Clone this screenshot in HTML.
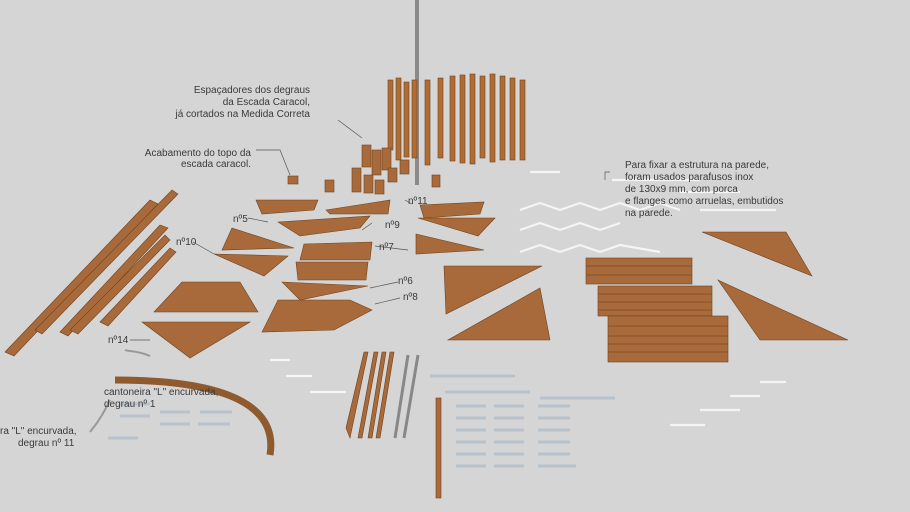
<!DOCTYPE html>
<html><head><meta charset="utf-8"><style>
html,body{margin:0;padding:0;background:#d5d5d5;}
svg{display:block}
text{font-family:"Liberation Sans","DejaVu Sans",sans-serif;font-size:10px;fill:#3a3a3a}
</style></head><body>
<svg width="910" height="512" viewBox="0 0 910 512" xmlns="http://www.w3.org/2000/svg">
<rect width="910" height="512" fill="#d5d5d5"/>
<g fill="#a86a3a" stroke="#6e431f" stroke-width="0.6">
<rect x="415" y="0" width="4" height="185" fill="#8a8a8a" stroke="none"/>
<g fill="#b06c35">
<rect x="388" y="80" width="5" height="70"/><rect x="396" y="78" width="5" height="82"/><rect x="404" y="82" width="5" height="75"/><rect x="412" y="80" width="5" height="78"/>
<rect x="425" y="80" width="5" height="85"/><rect x="438" y="78" width="5" height="80"/><rect x="450" y="76" width="5" height="85"/><rect x="460" y="75" width="5" height="88"/><rect x="470" y="74" width="5" height="90"/><rect x="480" y="76" width="5" height="82"/><rect x="490" y="74" width="5" height="88"/><rect x="500" y="76" width="5" height="84"/><rect x="510" y="78" width="5" height="82"/><rect x="520" y="80" width="5" height="80"/>
</g>
<rect x="362" y="145" width="9" height="22"/><rect x="372" y="150" width="9" height="25"/><rect x="382" y="148" width="9" height="22"/><rect x="352" y="168" width="9" height="24"/><rect x="364" y="175" width="9" height="18"/><rect x="375" y="180" width="9" height="14"/><rect x="388" y="168" width="9" height="14"/><rect x="400" y="160" width="9" height="14"/><rect x="325" y="180" width="9" height="12"/><rect x="432" y="175" width="8" height="12"/>
<rect x="288" y="176" width="10" height="8"/>
<polygon points="5,352 150,200 158,204 14,356"/>
<polygon points="35,330 172,190 178,194 42,334"/>
<polygon points="60,332 160,225 168,228 68,336"/>
<polygon points="70,330 165,235 170,240 78,334"/>
<polygon points="100,322 170,248 176,252 108,326"/>
<polygon points="256,200 318,200 314,210 262,214"/>
<polygon points="278,222 370,216 360,228 300,236"/>
<polygon points="326,210 390,200 388,214 330,214"/>
<polygon points="420,205 484,202 480,214 424,218"/>
<polygon points="418,218 495,218 478,236"/>
<polygon points="232,228 294,248 222,250"/>
<polygon points="304,244 372,242 370,260 300,260"/>
<polygon points="214,254 288,256 264,276"/>
<polygon points="296,262 368,262 366,280 298,280"/>
<polygon points="416,234 484,250 416,254"/>
<polygon points="182,282 240,282 258,312 154,312"/>
<polygon points="282,282 368,286 300,300"/>
<polygon points="278,300 350,300 372,310 334,330 262,332"/>
<polygon points="142,322 250,322 190,358"/>
<polygon points="444,266 542,266 446,314"/>
<polygon points="540,288 550,340 448,340"/>
<polygon points="702,232 786,232 812,276"/>
<polygon points="718,280 848,340 760,340"/>
<rect x="586" y="258" width="106" height="26"/>
<rect x="598" y="286" width="114" height="30"/>
<rect x="608" y="316" width="120" height="46"/>
<path d="M115,380 C200,380 280,395 270,455" fill="none" stroke="#8e5a2e" stroke-width="7"/>
<polygon points="346,428 364,352 368,352 350,438"/>
<polygon points="358,438 374,352 378,352 362,438"/>
<polygon points="368,438 382,352 386,352 372,438"/>
<polygon points="376,438 390,352 394,352 380,438"/>
<rect x="436" y="398" width="5" height="100"/>
</g>
<g stroke="#7a4a24" stroke-width="0.8">
<line x1="586" y1="266" x2="692" y2="266"/><line x1="586" y1="275" x2="692" y2="275"/>
<line x1="598" y1="294" x2="712" y2="294"/><line x1="598" y1="302" x2="712" y2="302"/><line x1="598" y1="310" x2="712" y2="310"/>
<line x1="608" y1="326" x2="728" y2="326"/><line x1="608" y1="336" x2="728" y2="336"/><line x1="608" y1="344" x2="728" y2="344"/><line x1="608" y1="352" x2="728" y2="352"/>
</g>
<g stroke="#888" stroke-width="3"><line x1="395" y1="438" x2="408" y2="355"/><line x1="404" y1="438" x2="418" y2="355"/></g>
<g stroke="#f5f5f5" stroke-width="2.2" fill="none">
<line x1="612" y1="180" x2="700" y2="180"/><line x1="680" y1="192" x2="740" y2="192"/><line x1="700" y1="210" x2="776" y2="210"/>
<polyline points="520,210 540,203 560,210 580,203 600,210 620,203 640,210 660,203 680,210"/>
<polyline points="520,230 540,223 560,230 580,223 600,230 620,223"/>
<polyline points="520,252 540,245 560,252 580,245 600,252 620,245 660,252"/>
<line x1="530" y1="172" x2="560" y2="172"/>
<line x1="270" y1="360" x2="290" y2="360"/><line x1="286" y1="376" x2="312" y2="376"/><line x1="310" y1="392" x2="346" y2="392"/>
<line x1="700" y1="410" x2="740" y2="410"/><line x1="730" y1="396" x2="760" y2="396"/><line x1="760" y1="382" x2="786" y2="382"/><line x1="670" y1="425" x2="705" y2="425"/>
</g>
<g stroke="#b8c2cc" stroke-width="3">
<line x1="430" y1="376" x2="515" y2="376"/><line x1="445" y1="392" x2="530" y2="392"/><line x1="540" y1="398" x2="615" y2="398"/>
<line x1="456" y1="406" x2="486" y2="406"/><line x1="494" y1="406" x2="524" y2="406"/><line x1="538" y1="406" x2="570" y2="406"/>
<line x1="456" y1="418" x2="486" y2="418"/><line x1="494" y1="418" x2="524" y2="418"/><line x1="538" y1="418" x2="570" y2="418"/>
<line x1="456" y1="430" x2="486" y2="430"/><line x1="494" y1="430" x2="524" y2="430"/><line x1="538" y1="430" x2="570" y2="430"/>
<line x1="456" y1="442" x2="486" y2="442"/><line x1="494" y1="442" x2="524" y2="442"/><line x1="538" y1="442" x2="570" y2="442"/>
<line x1="456" y1="454" x2="486" y2="454"/><line x1="494" y1="454" x2="524" y2="454"/><line x1="538" y1="454" x2="570" y2="454"/>
<line x1="456" y1="466" x2="486" y2="466"/><line x1="494" y1="466" x2="524" y2="466"/><line x1="538" y1="466" x2="576" y2="466"/>
<line x1="120" y1="404" x2="150" y2="404"/><line x1="160" y1="412" x2="190" y2="412"/><line x1="200" y1="412" x2="232" y2="412"/>
<line x1="120" y1="416" x2="150" y2="416"/><line x1="160" y1="424" x2="190" y2="424"/><line x1="198" y1="424" x2="230" y2="424"/>
<line x1="108" y1="438" x2="138" y2="438"/>
</g>
<g stroke="#999" stroke-width="2" fill="none"><path d="M150,356 C135,350 130,352 125,350"/><path d="M90,432 C100,420 105,410 110,400"/></g>
<g stroke="#555" stroke-width="0.7" fill="none">
<polyline points="338,120 362,138"/><polyline points="256,150 280,150 290,175"/><polyline points="610,172 605,172 605,180"/>
<line x1="248" y1="218" x2="268" y2="222"/><line x1="193" y1="242" x2="214" y2="254"/><line x1="372" y1="223" x2="362" y2="230"/><line x1="375" y1="246" x2="408" y2="250"/><line x1="398" y1="282" x2="370" y2="288"/><line x1="400" y1="298" x2="375" y2="304"/><line x1="130" y1="340" x2="150" y2="340"/><line x1="412" y1="204" x2="405" y2="200"/>
</g>
<text x="310" y="93" text-anchor="end">Espaçadores dos degraus</text>
<text x="310" y="105" text-anchor="end">da Escada Caracol,</text>
<text x="310" y="117" text-anchor="end">já cortados na Medida Correta</text>
<text x="251" y="156" text-anchor="end">Acabamento do topo da</text>
<text x="251" y="167" text-anchor="end">escada caracol.</text>
<text x="625" y="168">Para fixar a estrutura na parede,</text>
<text x="625" y="180">foram usados parafusos inox</text>
<text x="625" y="192">de 130x9 mm, com porca</text>
<text x="625" y="204">e flanges como arruelas, embutidos</text>
<text x="625" y="216">na parede.</text>
<text x="233" y="222">nº5</text><text x="176" y="245">nº10</text><text x="408" y="204">nº11</text><text x="385" y="228">nº9</text><text x="379" y="250">nº7</text><text x="398" y="284">nº6</text><text x="403" y="300">nº8</text><text x="108" y="343">nº14</text>
<text x="104" y="395">cantoneira "L" encurvada,</text><text x="104" y="407">degrau nº 1</text>
<text x="0" y="434">ra "L" encurvada,</text><text x="18" y="446">degrau nº 11</text>
</svg>
</body></html>
